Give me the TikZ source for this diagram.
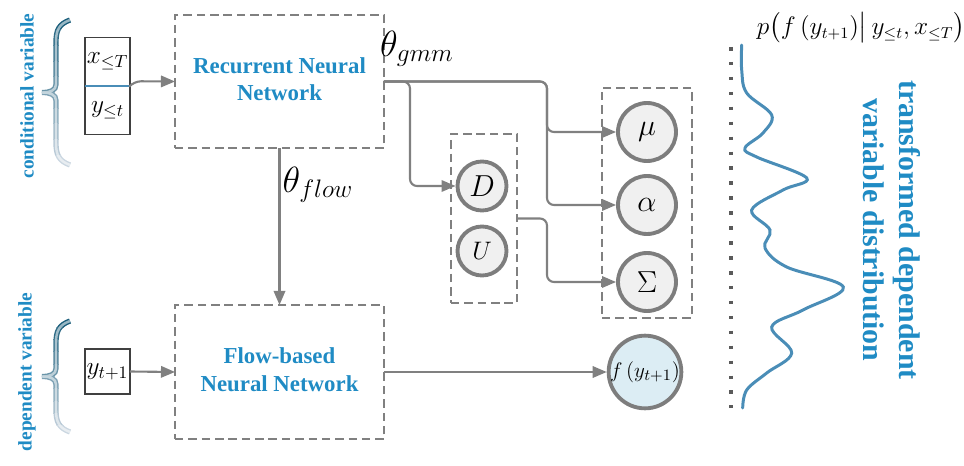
\documentclass[tikz,border=0pt]{standalone}
\usepackage{fontspec}
\setmainfont{Liberation Serif}
\usepackage{amsmath}
\usetikzlibrary{positioning,arrows.meta,calc}

\definecolor{txtBlue}{RGB}{31,139,196}
\definecolor{curveBlue}{RGB}{74,141,183}
\definecolor{lnGray}{RGB}{128,128,128}
\definecolor{ringGray}{RGB}{125,125,125}
\definecolor{dotGray}{RGB}{90,90,90}
\definecolor{braceDark}{RGB}{27,94,123}
\definecolor{braceLight}{RGB}{205,216,226}
\definecolor{fyFill}{RGB}{220,237,244}

\begin{document}
\begin{tikzpicture}[x=0.02cm, y=-0.02cm,
  dbox/.style={draw=lnGray, dash pattern=on 4.8pt off 2.8pt, line width=0.9pt,
               inner sep=0pt, outer sep=0pt, align=center,
               font=\fontsize{13}{15.5}\selectfont\bfseries, text=txtBlue},
  vbox/.style={draw=black!75, line width=0.7pt, minimum width=0.9cm,
               inner sep=0pt, outer sep=0pt, font=\fontsize{14}{16}\selectfont},
  pc/.style={circle, draw=ringGray, line width=2.2pt, fill=gray!12,
             minimum size=#1, inner sep=0pt},
  ar/.style={-{Triangle[length=8pt,width=6.5pt]}, draw=lnGray, line width=1.2pt,
             rounded corners=4pt},
  lb/.style={text=txtBlue, font=\fontsize{11}{13}\selectfont\bfseries, rotate=90},
  tube/.style={line width=0.8pt, double distance=1.4pt}
]
\useasboundingbox (0,0) rectangle (964,466);

% braces on the left
\foreach \yt/\yb in {20/165,321/432}{
  \pgfmathsetmacro\ym{(\yt+\yb)/2}
  \pgfmathsetmacro\hb{(\yb-\yt+12)/10}
  \foreach \i in {0,...,9}{
    \pgfmathtruncatemacro\pc{100-\i*11}
    \pgfmathsetmacro\ya{\yt-6+\i*\hb}
    \pgfmathsetmacro\yz{\yt-6+(\i+1)*\hb}
    \begin{scope}
      \clip (30,\ya) rectangle (80,\yz);
      \draw[tube, draw=braceDark!\pc!braceLight, double=braceDark!\pc!braceLight!45!white]
        (70,\yt) .. controls (59,\yt+4) and (56,\yt+10) .. (56,\yt+22)
        -- (56,\ym-8) .. controls (56,\ym-2) and (50,\ym) .. (42,\ym)
        .. controls (50,\ym) and (56,\ym+2) .. (56,\ym+8)
        -- (56,\yb-22) .. controls (56,\yb-10) and (59,\yb-4) .. (70,\yb);
    \end{scope}
  }
}
\node[lb] (cond) at (27,96) {conditional variable};
\node[lb] (dep) at (27,372) {dependent variable};

% inputs
\node[vbox, minimum height=0.97cm] (xT) at (107.5,61.5) {$x_{\le T}$};
\node[vbox, minimum height=0.97cm] (yt) at (107.5,110) {$y_{\le t}$};
\draw[curveBlue, line width=1pt] (xT.south west) -- (xT.south east);
\node[vbox, minimum height=0.9cm] (ynext) at (107.5,371.5) {$y_{t+1}$};

% networks
\node[dbox, minimum width=4.18cm, minimum height=2.66cm] (rnn) at (279.5,81.5)
  {\raisebox{5pt}{\begin{tabular}{@{}c@{}}Recurrent Neural\\Network\end{tabular}}};
\node[dbox, minimum width=4.18cm, minimum height=2.68cm] (flow) at (279.5,372)
  {\raisebox{4pt}{\begin{tabular}{@{}c@{}}Flow-based\\Neural Network\end{tabular}}};

% parameter groups
\node[dbox, minimum width=1.32cm, minimum height=3.38cm] (du) at (484,218.5) {};
\node[dbox, minimum width=1.8cm, minimum height=4.6cm] (gmm) at (647,203) {};

\node[pc=0.98cm] (D) at (482,186) {\fontsize{18}{20}\selectfont$D$};
\node[pc=0.98cm] (U) at (482,251) {\fontsize{15}{18}\selectfont$U$};
\node[pc=1.16cm] (mu) at (647,132) {\fontsize{18}{20}\selectfont$\mu$};
\node[pc=1.16cm] (alpha) at (647,205) {\fontsize{19}{21}\selectfont$\alpha$};
\node[pc=1.16cm] (sig) at (647,282) {\fontsize{19}{21}\selectfont$\Sigma$};
\node[pc=1.44cm, fill=fyFill] (fy) at (645,372) {\fontsize{13}{15}\selectfont$f\,(y_{t+1})$};

% connectors
\coordinate (tD) at (410,81.5);
\coordinate (tG) at (547,81.5);
\draw[ar] (xT.south east) -- ++(4,-4.5) -- (rnn.west);
\draw[ar] (rnn.east) -- (tG) |- (mu.west);
\draw[ar] (rnn.east) -- (tG) |- (alpha.west);
\draw[ar] (rnn.east) -- (tD) |- (D.west);
\draw[ar] (du.east) -- ++(30,0) |- (sig.west);
\draw[ar] (rnn.south) -- (flow.north);
\draw[ar] (ynext.east) -- (flow.west);
\draw[ar] (flow.east) -- (fy.west);

\node[font=\fontsize{20}{24}\selectfont] (thg) at (417,49) {$\theta_{gmm}$};
\node[font=\fontsize{20}{24}\selectfont] (thf) at (318,185) {$\theta_{flow}$};

% output distribution
\node[font=\fontsize{13.5}{16}\selectfont] (ptitle) at (861,28)
  {$p\big(f\,(y_{t+1})\big|\,y_{\le t},x_{\le T}\big)$};
\coordinate (dtop) at (731,47);
\coordinate (dbot) at (731,408);
\draw[dotGray, line width=2pt, dash pattern=on 2pt off 6.5pt] (dtop) -- (dbot);
\draw[curveBlue, line width=1.7pt, line cap=round] plot[smooth, tension=0.6] coordinates {
  (741.7,45) (741.7,70) (746.7,93) (771.7,115) (763,133) (745,148) (756.7,157)
  (806.7,178) (783,190) (751.7,210) (770,230) (765,248) (786.7,267) (843.3,287)
  (803,310) (771.7,327) (791.7,353) (766.7,373) (746.7,390) (742.7,408)};
\node[text=txtBlue, font=\fontsize{17}{20.5}\selectfont\bfseries, rotate=-90, align=center]
  (tdist) at (892,230) {transformed dependent\\variable distribution};
\end{tikzpicture}
\end{document}
